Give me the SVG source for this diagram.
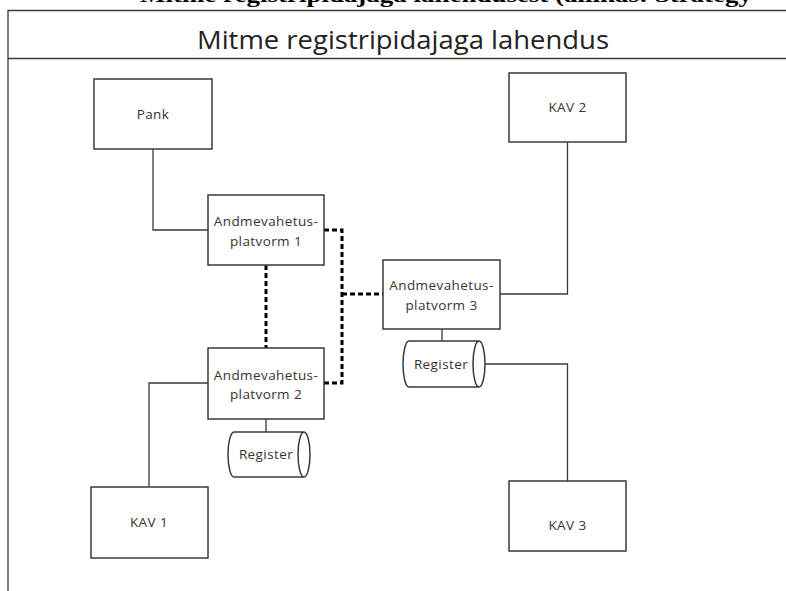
<svg xmlns="http://www.w3.org/2000/svg" width="786" height="591" viewBox="0 0 786 591">
<style>
.box{fill:#fff;stroke:#3a3a3a;stroke-width:1.5}
.ln{fill:none;stroke:#3a3a3a;stroke-width:1.3}
.dot{fill:none;stroke:#000;stroke-width:3;stroke-dasharray:5 3}
.t{font-family:"Open Sans","Liberation Sans",sans-serif;font-size:13.5px;letter-spacing:0.4px;fill:#333;text-anchor:middle}
.title{font-family:"Open Sans","Liberation Sans",sans-serif;font-size:26px;fill:#222;text-anchor:middle}
.cap{font-family:"Liberation Serif",serif;font-size:22px;font-weight:bold;fill:#000}
</style>
<rect width="786" height="591" fill="#fff"/>
<text class="cap" x="140" y="1.5" textLength="612" lengthAdjust="spacingAndGlyphs">Mitme registripidajaga lahendusest (allikas: Strategy</text>
<g id="frame">
<path class="ln" d="M8,591 V10.5 H786 M8,58.5 H786" stroke-width="1.6"/>
<text class="title" x="403" y="49" textLength="412" lengthAdjust="spacingAndGlyphs">Mitme registripidajaga lahendus</text>
</g>
<g id="connectors">
<path class="ln" d="M153,149 V230 H208"/>
<path class="ln" d="M208,383 H149 V487"/>
<path class="ln" d="M266,419 V432"/>
<path class="ln" d="M567.5,142 V294 H500"/>
<path class="ln" d="M442,329 V341"/>
<path class="ln" d="M485,364 H567.5 V481"/>
<path class="dot" d="M324,230 H342 V383 H324"/>
<path class="dot" d="M266,265 V348"/>
<path class="dot" d="M342,294 H383"/>
</g>
<g id="pank">
<rect class="box" x="94" y="79" width="118" height="70"/>
<text class="t" x="153" y="119">Pank</text>
</g>
<g id="ap1">
<rect class="box" x="208" y="195" width="116" height="70"/>
<text class="t" x="266" y="226">Andmevahetus-</text>
<text class="t" x="266" y="246">platvorm 1</text>
</g>
<g id="ap2">
<rect class="box" x="208" y="348" width="116" height="71"/>
<text class="t" x="266" y="380">Andmevahetus-</text>
<text class="t" x="266" y="399">platvorm 2</text>
</g>
<g id="ap3">
<rect class="box" x="383" y="260" width="117" height="69"/>
<text class="t" x="441.5" y="290">Andmevahetus-</text>
<text class="t" x="441.5" y="310">platvorm 3</text>
</g>
<g id="register2">
<path class="box" d="M234,432 H304 A6,22.5 0 0 1 304,477 H234 A6,22.5 0 0 1 234,432 Z M304,432 A6,22.5 0 0 0 304,477"/>
<text class="t" x="266" y="459">Register</text>
</g>
<g id="register3">
<path class="box" d="M409,341 H479 A6,23 0 0 1 479,387 H409 A6,23 0 0 1 409,341 Z M479,341 A6,23 0 0 0 479,387"/>
<text class="t" x="441" y="369">Register</text>
</g>
<g id="kav1">
<rect class="box" x="91" y="487" width="117" height="71"/>
<text class="t" x="149" y="527">KAV 1</text>
</g>
<g id="kav2">
<rect class="box" x="509" y="73" width="117" height="69"/>
<text class="t" x="567.5" y="112">KAV 2</text>
</g>
<g id="kav3">
<rect class="box" x="509" y="481" width="117" height="70"/>
<text class="t" x="567.5" y="530">KAV 3</text>
</g>
</svg>
